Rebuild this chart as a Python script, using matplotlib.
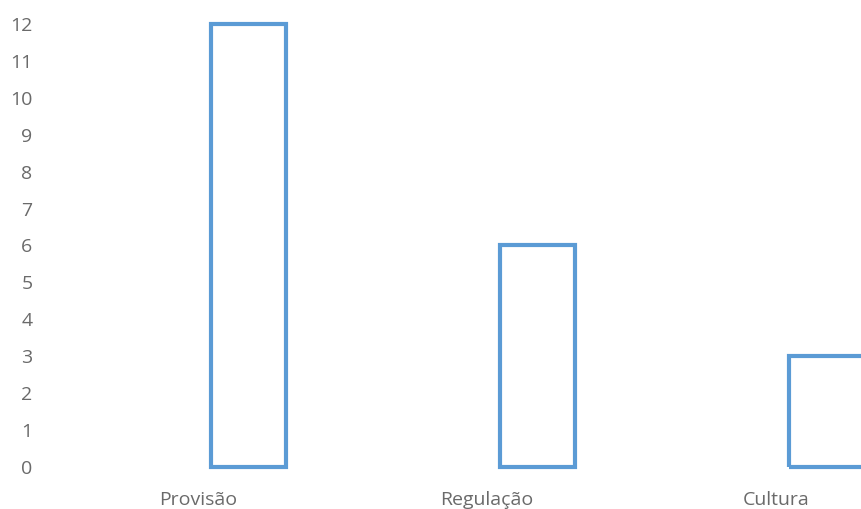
import matplotlib.pyplot as plt

plt.rcParams['font.family'] = ['Open Sans', 'DejaVu Sans']

categorias = ['Provisão', 'Regulação', 'Cultura']
valores = [12, 6, 3]
yticks = list(range(0, 13))

cor_barra = '#5B9BD5'
cor_texto = '#6a6a6a'

fig = plt.figure(figsize=(8.61, 5.09), dpi=100)
ax = fig.add_axes([45 / 861, 42 / 509, 1 - 45 / 861, (467 - 5.5) / 509])

# barras sem preenchimento, deslocadas à direita do centro da categoria
pos = list(range(len(categorias)))
barras = ax.bar([p + 0.045 for p in pos], valores, width=0.26, align='edge',
                fill=False, edgecolor=cor_barra, linewidth=3)
for b in barras:
    b.set_clip_on(False)

ax.set_xlim(-0.529, 2.294)
ax.set_ylim(0, 12.5)
ax.set_yticks(yticks)
ax.set_xticks(pos)
ax.set_xticklabels(categorias)

for s in ax.spines.values():
    s.set_visible(False)
ax.tick_params(axis='both', length=0, colors=cor_texto, labelsize=14)
ax.tick_params(axis='y', pad=9)
ax.tick_params(axis='x', pad=17)

fig.savefig('out.png', dpi=100)
